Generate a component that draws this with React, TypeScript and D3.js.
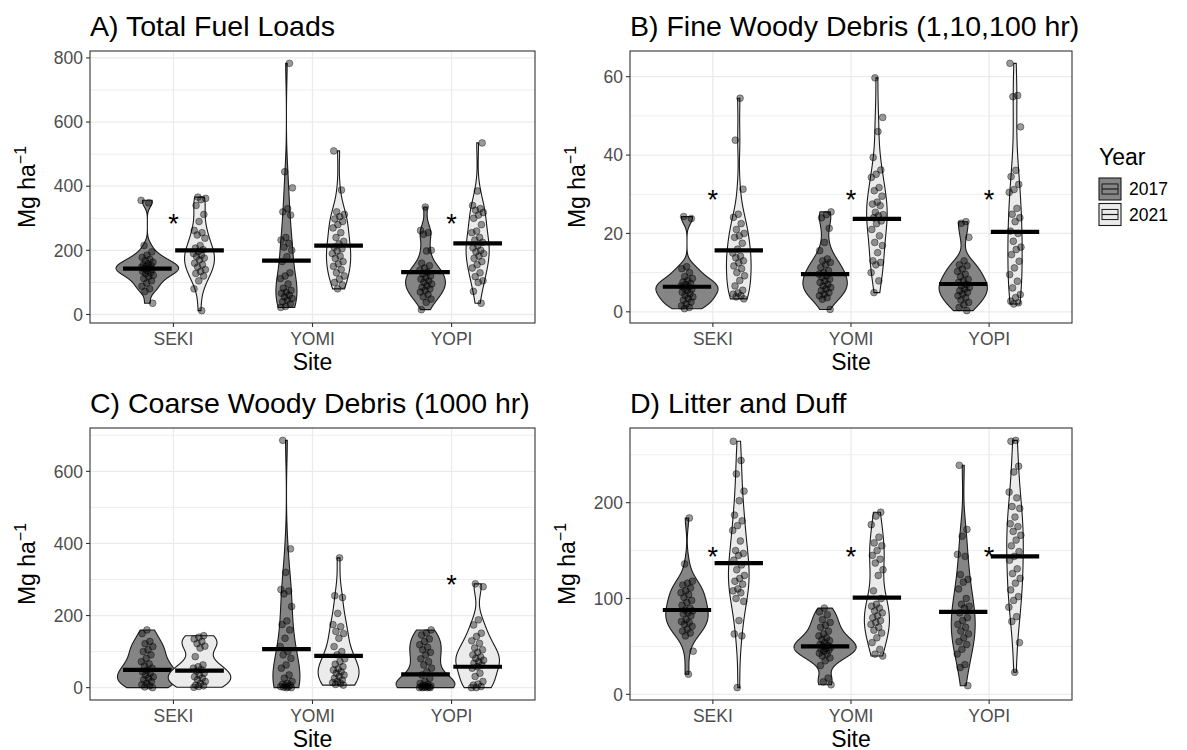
import React from "react";
import * as d3 from "d3";

const SITES = ["SEKI", "YOMI", "YOPI"];
const YEARS = ["2017", "2021"];

// ---------- A) Total Fuel Loads (Mg/ha) ----------
const totalSeki2017 = [356, 348, 215, 195, 185, 178, 172, 168, 163, 158, 155, 152, 150, 147, 145, 142, 140, 137, 134, 130, 127, 122, 118, 112, 105, 98, 88, 80, 72, 35];
const totalSeki2021 = [366, 362, 358, 340, 312, 290, 262, 255, 248, 238, 215, 207, 202, 196, 190, 185, 181, 176, 170, 160, 155, 148, 140, 134, 128, 120, 105, 80, 12];
const totalYomi2017 = [783, 445, 395, 330, 320, 310, 240, 232, 222, 210, 200, 180, 165, 130, 120, 112, 95, 82, 75, 70, 66, 60, 55, 50, 45, 40, 33, 25, 22];
const totalYomi2021 = [510, 388, 320, 312, 305, 298, 290, 280, 270, 255, 240, 228, 220, 210, 205, 198, 190, 182, 175, 165, 158, 150, 140, 130, 120, 110, 100, 92, 80];
const totalYopi2017 = [335, 262, 255, 250, 200, 198, 160, 152, 145, 138, 132, 126, 120, 115, 110, 105, 100, 95, 90, 85, 80, 75, 70, 62, 55, 48, 38, 15];
const totalYopi2021 = [535, 385, 340, 330, 325, 318, 310, 300, 280, 260, 255, 240, 232, 225, 215, 208, 200, 195, 190, 182, 175, 165, 155, 145, 130, 118, 105, 100, 72, 35];
const totalBars = [143, 200, 168, 215, 132, 222];
const totalStars = ["SEKI", "YOPI"];
const totalStarY = 300;
const totalTicks = [0, 200, 400, 600, 800];

// ---------- B) Fine Woody Debris ----------
const fineSeki2017 = [24.3, 23.8, 11.5, 11, 10, 9, 8.5, 8, 7.6, 7.2, 7, 6.6, 6.3, 6, 5.7, 5.4, 5, 4.6, 4.2, 3.8, 3.4, 3, 2.5, 2, 1.5, 1.1, 0.8];
const fineSeki2021 = [54.5, 43.8, 31.3, 24.9, 24.1, 22.5, 21, 20, 19.4, 19, 17.5, 16, 15, 14.2, 13.8, 13, 12.5, 11.7, 11, 10, 9.2, 8, 6.6, 5.5, 4.8, 4.5, 4.1, 3.8, 3.3];
const fineYomi2017 = [25.5, 24.8, 24, 21.3, 17.7, 15.6, 13.5, 13, 12.6, 12, 11.3, 10.5, 10, 9.6, 9.2, 8.8, 8.3, 7.9, 7.5, 7, 6.6, 6.2, 5.8, 5.4, 4.9, 4.5, 4.1, 3.6, 3.2, 0.6];
const fineYomi2021 = [59.7, 49.6, 46, 39.4, 36.2, 35.1, 34.3, 31.7, 30.9, 29.5, 28, 27.5, 27.1, 25.4, 24.8, 24.5, 24, 23.2, 22.5, 21, 19.4, 17.7, 16.9, 15.1, 13, 12.6, 12, 10, 7.9, 4.9];
const fineYopi2017 = [23, 22.6, 19, 13, 12, 11.7, 10.9, 10.3, 9.6, 9, 8.3, 7.9, 7.5, 7, 6.6, 6.2, 5.8, 5.4, 5, 4.6, 4.1, 3.6, 3, 2.4, 1.8, 1.1, 0.3];
const fineYopi2021 = [63.4, 55.2, 54.9, 47.2, 36.1, 34.5, 32.5, 31.2, 30.5, 26.4, 24.9, 24, 23, 20.6, 20, 18, 16.5, 15.9, 14.6, 12.9, 11.2, 9.5, 7.8, 6.1, 4.4, 3.6, 2.7, 2.3, 2];
const fineBars = [6.4, 15.7, 9.6, 23.7, 7.1, 20.4];
const fineStars = ["SEKI", "YOMI", "YOPI"];
const fineStarY = 30;
const fineTicks = [0, 20, 40, 60];

// ---------- C) Coarse Woody Debris ----------
const coarseSeki2017 = [160, 150, 128, 122, 114, 105, 100, 91, 81, 72, 66, 60, 54, 48, 44, 40, 35, 30, 26, 22, 17, 12, 8, 5, 2, 0];
const coarseSeki2021 = [144, 140, 135, 128, 122, 115, 110, 86, 63, 58, 54, 50, 46, 40, 35, 30, 26, 22, 17, 12, 7, 5, 3, 1];
const coarseYomi2017 = [686, 385, 320, 272, 268, 260, 225, 185, 175, 160, 137, 114, 100, 91, 81, 63, 54, 35, 26, 17, 12, 9, 7, 5, 3, 2, 1, 0, 0];
const coarseYomi2021 = [360, 255, 250, 206, 175, 169, 156, 150, 137, 114, 100, 91, 80, 72, 65, 58, 52, 49, 44, 40, 35, 31, 26, 21, 17, 14, 12, 9, 7];
const coarseYopi2017 = [160, 152, 146, 135, 128, 119, 112, 105, 98, 91, 80, 72, 63, 54, 44, 35, 26, 17, 12, 9, 7, 5, 4, 3, 2, 1, 0, 0, 0, 0];
const coarseYopi2021 = [288, 280, 188, 174, 151, 142, 130, 123, 110, 105, 98, 91, 85, 81, 76, 72, 68, 63, 58, 54, 40, 31, 17, 10, 7, 3, 0, 0];
const coarseBars = [49, 47, 107, 88, 37, 58];
const coarseStars = ["YOPI"];
const coarseStarY = 300;
const coarseTicks = [0, 200, 400, 600];

// ---------- D) Litter and Duff ----------
const litterSeki2017 = [184, 136, 118, 116, 114, 111, 108, 106, 104, 101, 98, 96, 93, 90, 88, 87, 85, 84, 82, 78, 76, 75, 73, 71, 68, 66, 64, 61, 45, 21];
const litterSeki2021 = [264, 244, 230, 212, 202, 187, 181, 176, 171, 160, 150, 147, 145, 140, 135, 130, 124, 121, 118, 115, 110, 108, 106, 100, 97, 77, 63, 61, 7];
const litterYomi2017 = [90, 86, 83, 78, 75, 72, 70, 66, 63, 61, 59, 57, 56, 54, 52, 51, 50, 49, 48, 47, 46, 45, 43, 42, 40, 38, 35, 30, 17, 13, 10];
const litterYomi2021 = [190, 186, 177, 164, 158, 155, 150, 145, 141, 137, 130, 124, 108, 100, 94, 92, 90, 87, 85, 82, 80, 77, 75, 73, 70, 67, 64, 59, 54, 47, 42, 40];
const litterYopi2017 = [239, 172, 165, 146, 144, 125, 120, 117, 110, 100, 94, 92, 90, 85, 80, 77, 73, 70, 66, 63, 59, 55, 52, 47, 42, 31, 28, 9];
const litterYopi2021 = [265, 264, 238, 232, 211, 205, 196, 194, 185, 178, 175, 170, 166, 161, 155, 149, 144, 140, 131, 126, 121, 116, 109, 102, 98, 91, 81, 76, 54, 23];
const litterBars = [88, 137, 50, 101, 86, 144];
const litterStars = ["SEKI", "YOMI", "YOPI"];
const litterStarY = 150;
const litterTicks = [0, 100, 200];

const FILLS = ["#858585", "#ebebeb"];
const FONT = "'Liberation Sans', Arial, Helvetica, sans-serif";
const TICK_FS = 17.5;
const AXIS_FS = 23;

type PanelDef = {
  title: string;
  groups: number[][][];
  bars: number[];
  stars: string[];
  starY: number;
  ticks: number[];
  box: { x0: number; x1: number; y0: number; y1: number };
};

const panels: PanelDef[] = [
  {
    title: "A) Total Fuel Loads",
    groups: [[totalSeki2017, totalSeki2021], [totalYomi2017, totalYomi2021], [totalYopi2017, totalYopi2021]],
    bars: totalBars, stars: totalStars, starY: totalStarY, ticks: totalTicks,
    box: { x0: 90, x1: 535, y0: 51, y1: 323 },
  },
  {
    title: "B) Fine Woody Debris (1,10,100 hr)",
    groups: [[fineSeki2017, fineSeki2021], [fineYomi2017, fineYomi2021], [fineYopi2017, fineYopi2021]],
    bars: fineBars, stars: fineStars, starY: fineStarY, ticks: fineTicks,
    box: { x0: 630, x1: 1072, y0: 51, y1: 323 },
  },
  {
    title: "C) Coarse Woody Debris (1000 hr)",
    groups: [[coarseSeki2017, coarseSeki2021], [coarseYomi2017, coarseYomi2021], [coarseYopi2017, coarseYopi2021]],
    bars: coarseBars, stars: coarseStars, starY: coarseStarY, ticks: coarseTicks,
    box: { x0: 90, x1: 535, y0: 428, y1: 700 },
  },
  {
    title: "D) Litter and Duff",
    groups: [[litterSeki2017, litterSeki2021], [litterYomi2017, litterYomi2021], [litterYopi2017, litterYopi2021]],
    bars: litterBars, stars: litterStars, starY: litterStarY, ticks: litterTicks,
    box: { x0: 630, x1: 1072, y0: 428, y1: 700 },
  },
];

function kde(values: number[]): [number, number][] {
  const n = values.length;
  const sorted = values.slice().sort((a, b) => a - b);
  const sd = d3.deviation(values) || 0;
  const iqr = (d3.quantileSorted(sorted, 0.75) as number) - (d3.quantileSorted(sorted, 0.25) as number);
  let lo = Math.min(sd, iqr / 1.34);
  if (!(lo > 0)) lo = sd || 1;
  const bw = 0.9 * lo * Math.pow(n, -0.2);
  const mn = sorted[0];
  const mx = sorted[n - 1];
  const out: [number, number][] = [];
  const N = 512;
  for (let k = 0; k < N; k++) {
    const y = mn + ((mx - mn) * k) / (N - 1);
    let s = 0;
    for (const v of values) {
      const z = (y - v) / bw;
      s += Math.exp(-0.5 * z * z);
    }
    out.push([y, s / (n * bw * Math.sqrt(2 * Math.PI))]);
  }
  return out;
}

function jitter(i: number, k: number) {
  const u = (i * 0.6180339887 + k * 0.3719) % 1;
  return (u - 0.5) * 2;
}

function Panel({ p, pIdx }: { p: PanelDef; pIdx: number }) {
  const { x0, x1, y0, y1 } = p.box;
  const all = p.groups.flat(2);
  const mn = d3.min(all) as number;
  const mx = d3.max(all) as number;
  const pad = (mx - mn) * 0.05;
  const y = d3.scaleLinear().domain([mn - pad, mx + pad]).range([y1, y0]);
  const step = (x1 - x0) / 3.2;
  const siteX = (i: number) => x0 + (i + 0.6) * step;
  const dens = p.groups.map((g) => g.map((v) => kde(v)));
  const maxD = d3.max(dens.flat().map((d) => d3.max(d, (e) => e[1]) as number)) as number;

  const t = p.ticks;
  const dt = t[1] - t[0];
  const ext = [t[0] - dt, ...t, t[t.length - 1] + dt];
  const minors: number[] = [];
  for (let i = 0; i < ext.length - 1; i++) {
    const m = (ext[i] + ext[i + 1]) / 2;
    if (m >= y.domain()[0] && m <= y.domain()[1]) minors.push(m);
  }

  const line = d3.line<[number, number]>().x((d) => d[0]).y((d) => d[1]);
  const maxLabelW = d3.max(t, (v) => String(v).length) as number;
  const labelRight = x0 - 7;
  const labelsLeft = labelRight - maxLabelW * 0.556 * TICK_FS;
  const yTitleBaseline = labelsLeft - 19;
  const midY = (y0 + y1) / 2;

  return (
    <g>
      <text x={x0} y={y0 - 15.5} fontSize={28.5} fontFamily={FONT} fill="#000">{p.title}</text>
      <rect x={x0} y={y0} width={x1 - x0} height={y1 - y0} fill="#fff" />
      {minors.map((m) => (
        <line key={"mi" + m} x1={x0} x2={x1} y1={y(m)} y2={y(m)} stroke="#ebebeb" strokeWidth={0.9} />
      ))}
      {t.map((m) => (
        <line key={"ma" + m} x1={x0} x2={x1} y1={y(m)} y2={y(m)} stroke="#ebebeb" strokeWidth={1.3} />
      ))}
      {SITES.map((s, i) => (
        <line key={"vx" + s} x1={siteX(i)} x2={siteX(i)} y1={y0} y2={y1} stroke="#ebebeb" strokeWidth={1.3} />
      ))}
      {p.groups.map((g, si) =>
        g.map((vals, yi) => {
          const cx = siteX(si) + (yi - 0.5) * 0.375 * step;
          const d = dens[si][yi];
          const half = 0.225 * step;
          const left: [number, number][] = d.map((e) => [cx - (e[1] / maxD) * half, y(e[0])]);
          const right: [number, number][] = d.map((e) => [cx + (e[1] / maxD) * half, y(e[0])]).reverse() as [number, number][];
          const poly = [...left, ...right];
          const k = pIdx * 6 + si * 2 + yi;
          const barV = p.bars[si * 2 + yi];
          return (
            <g key={"v" + si + yi}>
              <path d={(line(poly) || "") + "Z"} fill={FILLS[yi]} stroke="#1a1a1a" strokeWidth={1.1} />
              {vals.map((v, i) => (
                <circle key={i} cx={cx + jitter(i, k) * 0.045 * step} cy={y(v)} r={3.4} fill="rgba(0,0,0,0.4)" stroke="rgba(0,0,0,0.55)" strokeWidth={0.7} />
              ))}
              <line x1={cx - 0.175 * step} x2={cx + 0.175 * step} y1={y(barV)} y2={y(barV)} stroke="#000" strokeWidth={4.2} />
            </g>
          );
        })
      )}
      {p.stars.map((s) => {
        const i = SITES.indexOf(s);
        return (
          <text key={"st" + s} x={siteX(i)} y={y(p.starY) + 15} fontSize={27} textAnchor="middle" fontFamily={FONT} fill="#000">*</text>
        );
      })}
      <rect x={x0} y={y0} width={x1 - x0} height={y1 - y0} fill="none" stroke="#333" strokeWidth={1.1} />
      {t.map((m) => (
        <g key={"yt" + m}>
          <line x1={x0 - 4} x2={x0} y1={y(m)} y2={y(m)} stroke="#333" strokeWidth={1.1} />
          <text x={labelRight} y={y(m) + 6.2} fontSize={TICK_FS} textAnchor="end" fill="#4d4d4d" fontFamily={FONT}>{m}</text>
        </g>
      ))}
      {SITES.map((s, i) => (
        <g key={"xt" + s}>
          <line x1={siteX(i)} x2={siteX(i)} y1={y1} y2={y1 + 4} stroke="#333" strokeWidth={1.1} />
          <text x={siteX(i)} y={y1 + 21.5} fontSize={TICK_FS} textAnchor="middle" fill="#4d4d4d" fontFamily={FONT}>{s}</text>
        </g>
      ))}
      <text x={(x0 + x1) / 2} y={y1 + 46.5} fontSize={AXIS_FS} textAnchor="middle" fill="#000" fontFamily={FONT}>Site</text>
      <text transform={`translate(${yTitleBaseline},${midY}) rotate(-90)`} fontSize={AXIS_FS} textAnchor="middle" fill="#000" fontFamily={FONT}>
        Mg ha<tspan dy={-9} fontSize={16}>−1</tspan>
      </text>
    </g>
  );
}

function Legend() {
  const lx = 1099;
  return (
    <g fontFamily={FONT}>
      <text x={lx} y={165} fontSize={AXIS_FS} fill="#000">Year</text>
      {YEARS.map((yr, i) => {
        const ky = 178 + i * 25.5;
        const w = 22, h = 22;
        return (
          <g key={yr}>
            <rect x={lx} y={ky} width={w} height={h} fill={FILLS[i]} stroke="#1a1a1a" strokeWidth={1.1} />
            <rect x={lx + 3} y={ky + h * 0.27} width={w - 6} height={h * 0.46} fill="none" stroke="#1a1a1a" strokeWidth={1} />
            <line x1={lx + 3} x2={lx + w - 3} y1={ky + h / 2} y2={ky + h / 2} stroke="#1a1a1a" strokeWidth={1.2} />
            <text x={lx + w + 8} y={ky + h / 2 + 6.2} fontSize={TICK_FS} fill="#000">{yr}</text>
          </g>
        );
      })}
    </g>
  );
}

export default function App() {
  return (
    <svg width={1187} height={750} style={{ position: "absolute", left: 0, top: 0, background: "#fff" }}>
      <rect width={1187} height={750} fill="#fff" />
      {panels.map((p, i) => (
        <Panel key={i} p={p} pIdx={i} />
      ))}
      <Legend />
    </svg>
  );
}
